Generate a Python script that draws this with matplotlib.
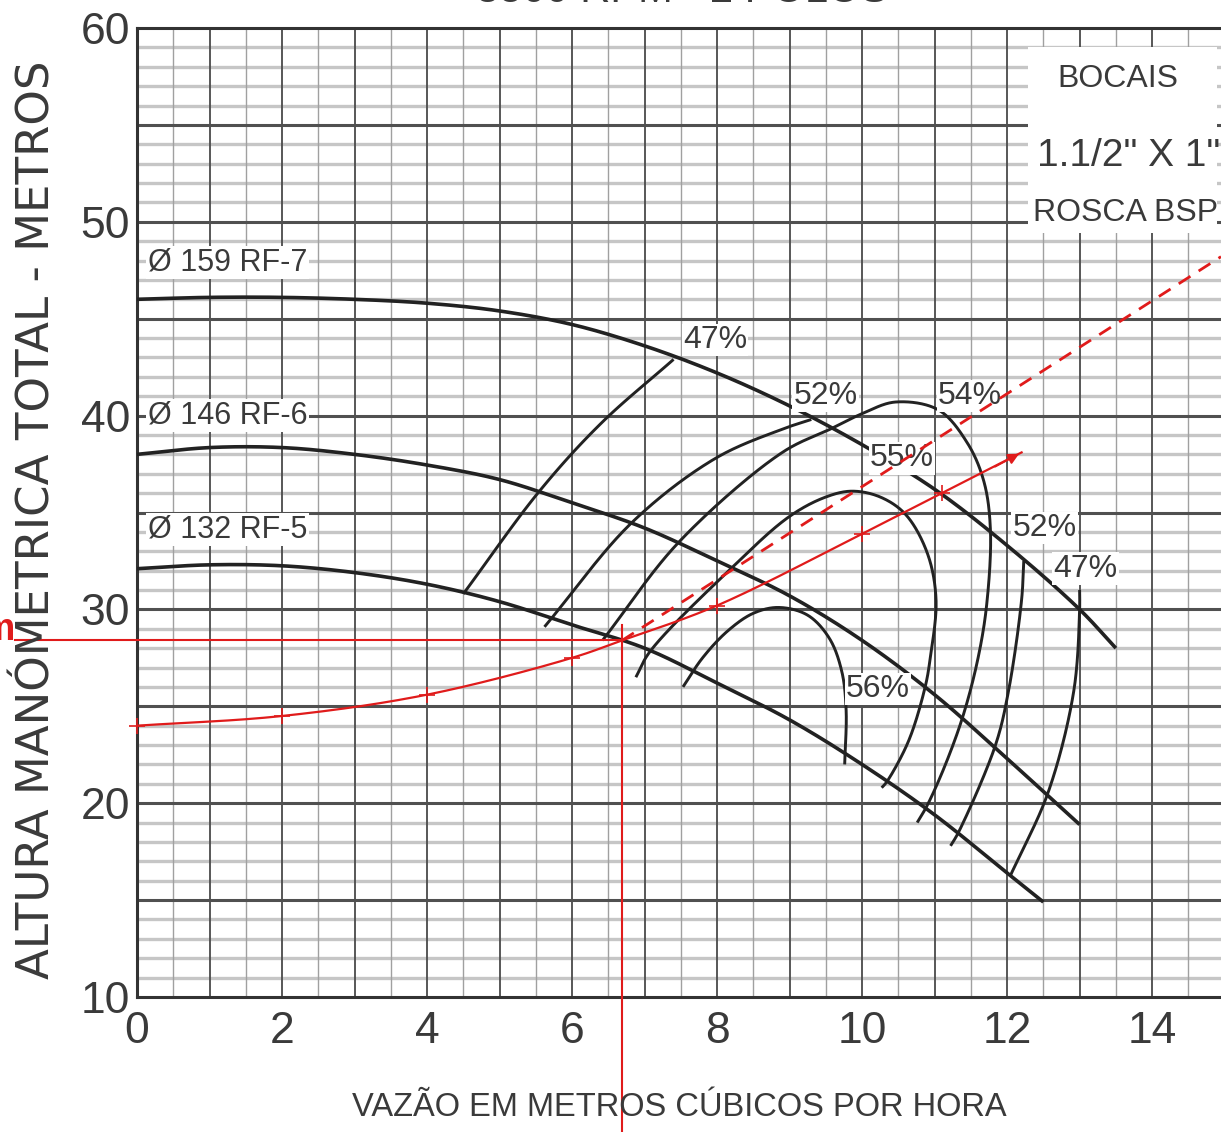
import numpy as np
import matplotlib
matplotlib.use("Agg")
import matplotlib.pyplot as plt
from matplotlib.patches import Rectangle

# ---- pump performance data (flow m3/h, head m) ----
rf7_q = [0, 1, 2, 3, 4, 5, 6, 7, 8, 9, 10, 11, 12, 13, 13.5]
rf7_h = [46.0, 46.1, 46.1, 46.0, 45.8, 45.4, 44.7, 43.6, 42.2, 40.5, 38.5, 36.2, 33.3, 30.0, 28.0]

rf6_q = [0, 1, 2, 3, 4, 5, 6, 7, 8, 9, 10, 11, 12, 13]
rf6_h = [38.0, 38.35, 38.35, 38.0, 37.45, 36.7, 35.5, 34.2, 32.5, 30.7, 28.4, 25.6, 22.3, 18.9]

rf5_q = [0, 1, 2, 3, 4, 5, 6, 7, 8, 9, 10, 11, 12, 12.5]
rf5_h = [32.1, 32.3, 32.25, 31.9, 31.3, 30.4, 29.2, 28.0, 26.2, 24.3, 22.0, 19.4, 16.4, 14.9]

# iso-efficiency contours
eff47_left_q = [4.5, 5.55, 6.4, 7.4]
eff47_left_h = [30.8, 36.1, 39.6, 42.9]
eff47_right_q = [13.0, 13.0, 12.92, 12.57, 12.05]
eff47_right_h = [31.0, 30.0, 25.8, 20.6, 16.3]

eff52_left_q = [5.62, 6.83, 7.98, 8.9, 9.3]
eff52_left_h = [29.1, 34.5, 37.8, 39.3, 39.8]
eff52_right_q = [12.23, 12.2, 12.02, 11.84, 11.33, 11.22]
eff52_right_h = [32.5, 30.5, 25.8, 23.0, 18.5, 17.8]

eff54_q = [6.42, 7.48, 8.9, 9.56, 10.0, 10.46, 11.05, 11.45, 11.68, 11.77, 11.72, 11.6, 11.4, 11.15, 10.9, 10.76]
eff54_h = [28.4, 33.5, 38.1, 39.3, 40.1, 40.7, 40.3, 38.6, 36.6, 34.1, 30.3, 27.5, 24.6, 22.0, 19.9, 19.0]

eff55_q = [6.88, 7.07, 8.19, 9.0, 9.5, 9.86, 10.25, 10.6, 10.9, 11.02, 10.94, 10.87, 10.64, 10.34, 10.27]
eff55_h = [26.5, 27.8, 32.1, 34.8, 35.8, 36.1, 35.8, 34.9, 32.9, 30.5, 27.5, 26.0, 23.2, 21.1, 20.8]

eff56_q = [7.53, 7.8, 8.15, 8.5, 8.85, 9.25, 9.55, 9.72, 9.78, 9.76]
eff56_h = [26.0, 27.5, 28.9, 29.8, 30.1, 29.7, 28.5, 26.8, 24.8, 22.0]

# system curve and operating point
sys_q = [0, 2, 4, 6, 6.69, 8, 10, 11.1, 12.2]
sys_h = [24.0, 24.5, 25.6, 27.5, 28.4, 30.2, 33.9, 36.0, 38.1]
sys_tick_q = [0, 2, 4, 6, 8, 10, 11.1]
sys_tick_h = [24.0, 24.5, 25.6, 27.5, 30.2, 33.9, 36.0]
op_q, op_h = 6.69, 28.4
dash_end_q, dash_end_h = 14.95, 48.2

# text
impeller_labels = ["Ø 159 RF-7", "Ø 146 RF-6", "Ø 132 RF-5"]
impeller_label_h = [47.9, 40.0, 34.1]
eff_labels = ["47%", "52%", "54%", "55%", "52%", "47%", "56%"]
eff_label_q = [7.97, 9.5, 11.49, 10.55, 12.52, 13.08, 10.22]
eff_label_h = [43.9, 41.0, 41.0, 37.8, 34.2, 32.1, 25.9]
x_ticks = [0, 2, 4, 6, 8, 10, 12, 14]
y_ticks = [10, 20, 30, 40, 50, 60]

W, H = 1221, 1132
NARROW = ["Liberation Sans", "DejaVu Sans"]
INK = "#3a3a3a"
RED = "#e01b1b"
YSCALE = 19.4 / 72.5  # y-units to x-units in screen proportion


def _cr_segment(p0, p1, p2, p3, n):
    """Centripetal Catmull-Rom segment between p1 and p2."""
    def nxt(t, a, b):
        return t + max(np.linalg.norm(b - a), 1e-6) ** 0.5
    t0 = 0.0
    t1 = nxt(t0, p0, p1)
    t2 = nxt(t1, p1, p2)
    t3 = nxt(t2, p2, p3)
    t = np.linspace(t1, t2, n, endpoint=False)[:, None]
    a1 = (t1 - t) / (t1 - t0) * p0 + (t - t0) / (t1 - t0) * p1
    a2 = (t2 - t) / (t2 - t1) * p1 + (t - t1) / (t2 - t1) * p2
    a3 = (t3 - t) / (t3 - t2) * p2 + (t - t2) / (t3 - t2) * p3
    b1 = (t2 - t) / (t2 - t0) * a1 + (t - t0) / (t2 - t0) * a2
    b2 = (t3 - t) / (t3 - t1) * a2 + (t - t1) / (t3 - t1) * a3
    return (t2 - t) / (t2 - t1) * b1 + (t - t1) / (t2 - t1) * b2


def smooth(qs, hs, n=40):
    """Smooth curve through the given points, built in screen proportion."""
    P = np.column_stack([np.asarray(qs, float), np.asarray(hs, float) * YSCALE])
    P = np.vstack([2 * P[0] - P[1], P, 2 * P[-1] - P[-2]])
    out = [_cr_segment(P[i - 1], P[i], P[i + 1], P[i + 2], n) for i in range(1, len(P) - 2)]
    out.append(P[-2][None])
    S = np.vstack(out)
    return S[:, 0], S[:, 1] / YSCALE


fig = plt.figure(figsize=(W / 100, H / 100), dpi=100)
ax = fig.add_axes([137 / W, 1 - 997 / H, 1 - 137 / W, (997 - 28) / H])
ax.set_xlim(0, 14.95)
ax.set_ylim(10, 60)

# graph-paper grid
for v in np.arange(0.5, 15.0, 0.5):
    if abs(v - round(v)) < 1e-9:
        ax.axvline(v, color="#4a4a4a", lw=1.3, zorder=0.5)
    else:
        ax.axvline(v, color="#a0a0a0", lw=1.0, zorder=0.4)
for h in range(11, 60):
    if h % 5 == 0:
        ax.axhline(h, color="#505050", lw=2.2, zorder=0.6)
    else:
        ax.axhline(h, color="#c6c6c6", lw=2.4, zorder=0.3)

for side in ("left", "top", "bottom"):
    ax.spines[side].set_color("#333333")
    ax.spines[side].set_linewidth(2.2)
ax.spines["right"].set_visible(False)

ax.set_xticks(x_ticks)
ax.set_yticks(y_ticks)
ax.set_xticklabels([str(v) for v in x_ticks], family=NARROW, fontsize=32, color=INK)
ax.set_yticklabels([str(v) for v in y_ticks], family=NARROW, fontsize=32, color=INK)
ax.tick_params(axis="both", length=0)
ax.tick_params(axis="x", pad=10)
ax.tick_params(axis="y", pad=5)

# nozzle note box
ax.add_patch(Rectangle((12.29, 49.4), 2.6, 9.6, facecolor="white", edgecolor="none", zorder=1.5))
ax.text(13.53, 57.37, "BOCAIS", family=NARROW, fontsize=23, color=INK,
        ha="center", va="center", zorder=5)
ax.text(12.41, 53.4, '1.1/2" X 1"', family=NARROW, fontsize=28, color=INK,
        ha="left", va="center", zorder=5, clip_on=False)
ax.text(12.36, 50.46, "ROSCA BSP", family=NARROW, fontsize=23, color=INK,
        ha="left", va="center", zorder=5, clip_on=False)

# impeller head curves
for q, hh in ((rf7_q, rf7_h), (rf6_q, rf6_h), (rf5_q, rf5_h)):
    sx, sy = smooth(q, hh)
    ax.plot(sx, sy, color="#222222", lw=2.6, zorder=3, solid_capstyle="butt")

# efficiency contours
for q, hh in ((eff47_left_q, eff47_left_h), (eff47_right_q, eff47_right_h),
              (eff52_left_q, eff52_left_h), (eff52_right_q, eff52_right_h),
              (eff54_q, eff54_h), (eff55_q, eff55_h), (eff56_q, eff56_h)):
    sx, sy = smooth(q, hh)
    ax.plot(sx, sy, color="#222222", lw=2.1, zorder=3, solid_capstyle="butt")

bbox = dict(facecolor="white", edgecolor="none", pad=1.0)
for txt, hh in zip(impeller_labels, impeller_label_h):
    ax.text(0.15, hh, txt, family=NARROW, fontsize=22, color=INK,
            ha="left", va="center", bbox=bbox, zorder=4)
for txt, q, hh in zip(eff_labels, eff_label_q, eff_label_h):
    ax.text(q, hh, txt, family=NARROW, fontsize=23, color=INK,
            ha="center", va="center", bbox=bbox, zorder=4)

# system curve
sx, sy = smooth(sys_q, sys_h)
ax.plot(sx, sy, color=RED, lw=1.6, zorder=6)
ax.plot(sys_tick_q, sys_tick_h, linestyle="none", marker="+", markersize=11,
        mew=1.2, color=RED, zorder=6, clip_on=False)
ax.annotate("", xy=(sys_q[-1], sys_h[-1]), xytext=(sys_q[-2] + 0.7, sys_h[-2] + 1.3),
            arrowprops=dict(arrowstyle="-|>", color=RED, lw=1.4, mutation_scale=16),
            zorder=6)

# operating point construction lines
ax.plot([-1.68, op_q], [op_h, op_h], color=RED, lw=1.5, zorder=6, clip_on=False)
ax.plot([op_q, op_q], [29.2, 3.0], color=RED, lw=1.5, zorder=6, clip_on=False)
ax.plot([op_q, dash_end_q], [op_h, dash_end_h], color=RED, lw=2.0,
        linestyle=(0, (5, 3.5)), zorder=6)
fig.text(16 / W, 1 - 630 / H, "Hm", color=RED, fontsize=27, fontweight="bold",
         ha="right", va="center", family=NARROW)

# axis titles
fig.text(37 / W, 1 - 520 / H, "ALTURA MANÓMETRICA TOTAL - METROS", rotation=90,
         fontsize=32.5, color=INK, ha="center", va="center", family=["DejaVu Sans"])
fig.text(679 / W, 1 - 1108 / H, "VAZÃO EM METROS CÚBICOS POR HORA", family=NARROW,
         fontsize=23.5, color=INK, ha="center", va="center")
fig.text(682 / W, 1 - 2 / H, "3500 RPM - 2 POLOS", family=NARROW, fontsize=30,
         color=INK, ha="center", va="baseline")

fig.savefig("out.png", dpi=100)
